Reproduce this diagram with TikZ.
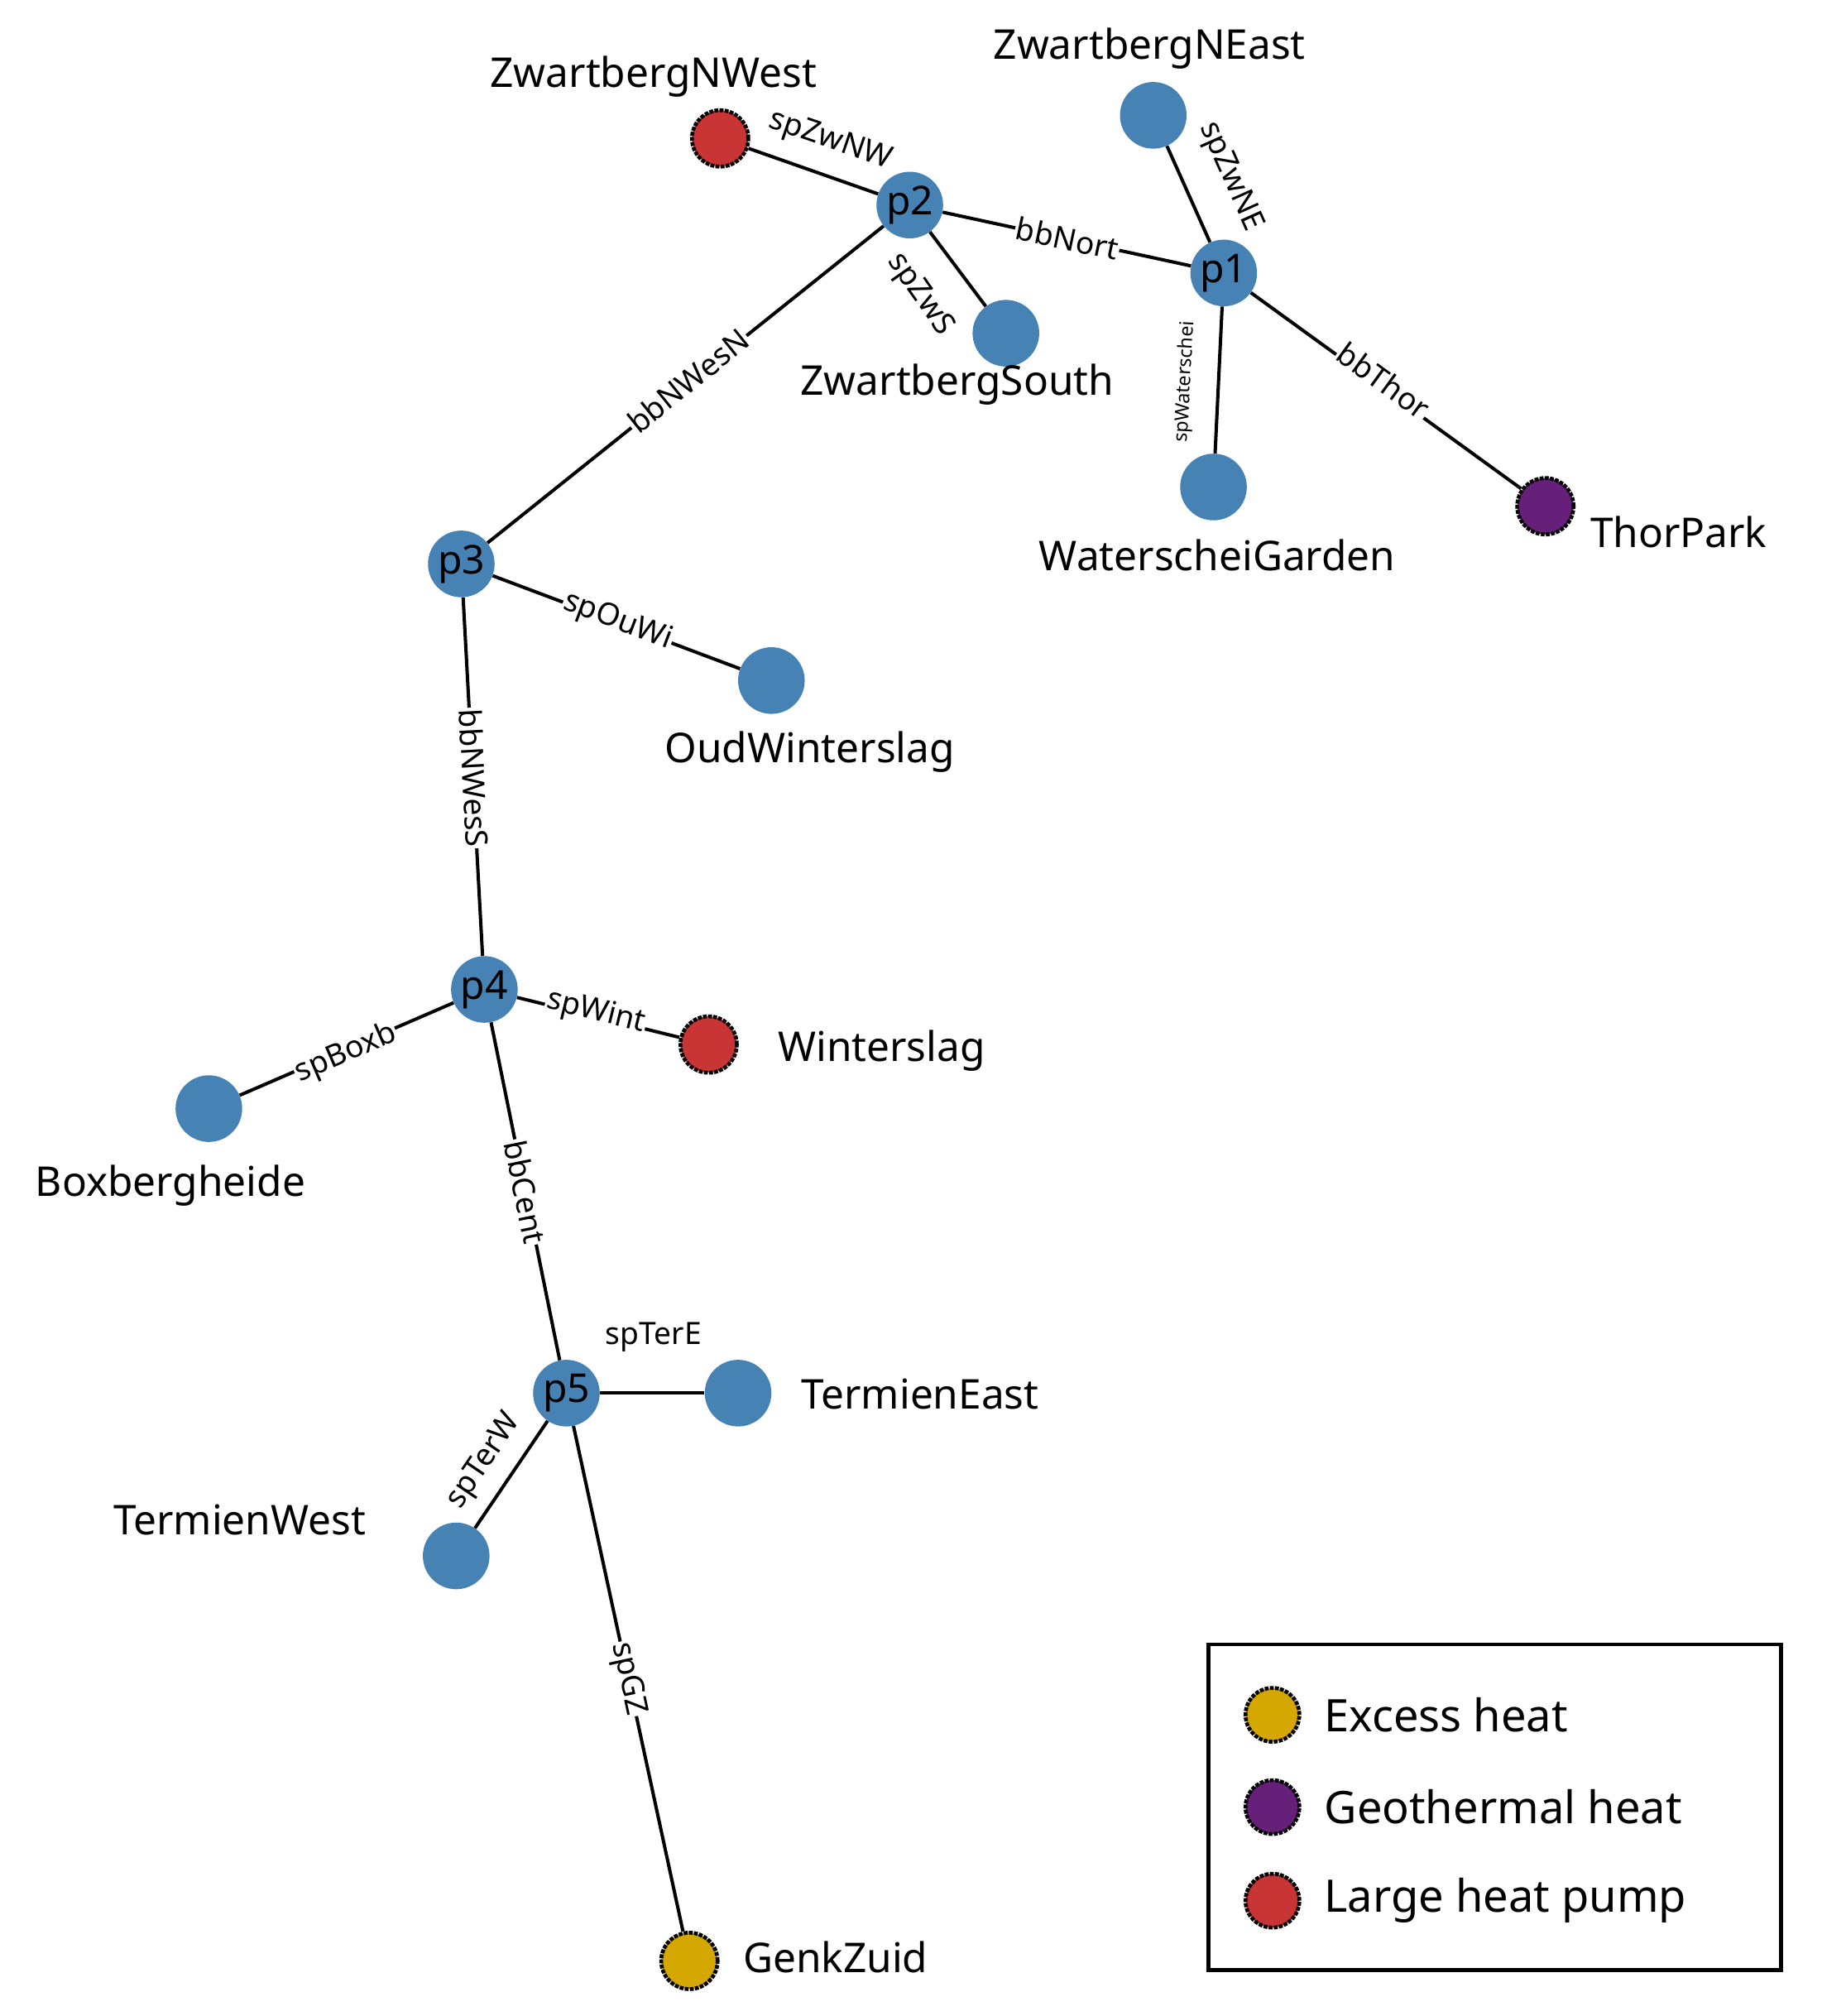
\documentclass[tikz,border=0pt]{standalone}
\usepackage{fontspec}
\setmainfont{Noto Sans}
\definecolor{nblue}{HTML}{4682B4}
\definecolor{nred}{HTML}{C93535}
\definecolor{npur}{HTML}{66207A}
\definecolor{nyel}{HTML}{D4A800}
\begin{document}
\begin{tikzpicture}[x=1pt,y=-1pt,
  nd/.style={circle,fill=nblue,minimum size=52pt,inner sep=0pt,font=\fontsize{31}{32}\selectfont},
  src/.style={circle,fill=#1,draw=black,densely dotted,line width=3pt,minimum size=44pt,inner sep=0pt},
  lab/.style={font=\fontsize{32}{34}\selectfont},
  el/.style={fill=white,inner sep=1pt,font=\fontsize{24}{26}\selectfont},
  ed/.style={line width=2.6pt}]
\useasboundingbox (0,0) rectangle (1440,1573);
% nodes
\node[src=nred] (zwnw) at (562,108) {};
\node[nd] (zwne) at (900,90) {};
\node[nd] (p2) at (710,160) {p2};
\node[nd] (p1) at (955,213) {p1};
\node[nd] (zws) at (785,260) {};
\node[nd] (wg) at (947,380) {};
\node[src=npur] (thor) at (1206,395) {};
\node[nd] (p3) at (360,440) {p3};
\node[nd] (ouw) at (602,531) {};
\node[nd] (p4) at (378,772) {p4};
\node[src=nred] (wint) at (553,815) {};
\node[nd] (boxb) at (163,865) {};
\node[nd] (p5) at (442,1087) {p5};
\node[nd] (te) at (576,1087) {};
\node[nd] (tw) at (356,1214) {};
\node[src=nyel] (gz) at (538,1530) {};
% edges
\draw[ed] (zwnw)--(p2); \draw[ed] (p2)--(p1); \draw[ed] (zwne)--(p1);
\draw[ed] (p2)--(zws); \draw[ed] (p3)--(p2); \draw[ed] (p1)--(wg);
\draw[ed] (p1)--(thor); \draw[ed] (p3)--(ouw); \draw[ed] (p3)--(p4);
\draw[ed] (p4)--(wint); \draw[ed] (boxb)--(p4); \draw[ed] (p4)--(p5);
\draw[ed] (p5)--(te); \draw[ed] (tw)--(p5); \draw[ed] (p5)--(gz);
% edge labels
\node[el,rotate=-19] (l1) at (648,110) {spZwNW};
\node[el,rotate=-12] (l2) at (833,186) {bbNort};
\node[el,rotate=-66] (l3) at (960,138) {spZwNE};
\node[el,rotate=-55] (l4) at (718,230) {spZwS};
\node[el,rotate=38.7] (l5) at (537,297) {bbNWesN};
\node[el,rotate=87,font=\fontsize{15}{16}\selectfont] (l6) at (925,298) {spWaterschei};
\node[el,rotate=-36] (l7) at (1080,297) {bbThor};
\node[el,rotate=-20.6] (l8) at (482,485) {spOuWi};
\node[el,rotate=-87] (l9) at (370,607) {bbNWesS};
\node[el,rotate=-13.8] (l10) at (465,790) {spWint};
\node[el,rotate=23.4] (l11) at (270,822) {spBoxb};
\node[el,rotate=-78.5] (l12) at (410,930) {bbCent};
\node[el] (l13) at (510,1043) {spTerE};
\node[el,rotate=55.9] (l14) at (378,1140) {spTerW};
\node[el,rotate=-77.8] (l15) at (490,1310) {spGZ};
% node labels
\node[lab] (t1) at (510,60) {ZwartbergNWest};
\node[lab] (t2) at (897,38) {ZwartbergNEast};
\node[lab] (t3) at (747,300) {ZwartbergSouth};
\node[lab] (t4) at (950,433) {WaterscheiGarden};
\node[lab] (t5) at (1310,415) {ThorPark};
\node[lab] (t6) at (632,587) {OudWinterslag};
\node[lab] (t7) at (688,820) {Winterslag};
\node[lab] (t8) at (133,925) {Boxbergheide};
\node[lab] (t9) at (718,1088) {TermienEast};
\node[lab] (t10) at (187,1186) {TermienWest};
\node[lab] (t11) at (652,1527) {GenkZuid};
% legend
\draw[line width=3pt] (943,1283) rectangle (1390,1537);
\node[src=nyel,minimum size=42pt] (g1) at (993,1338) {};
\node[src=npur,minimum size=42pt] (g2) at (993,1410) {};
\node[src=nred,minimum size=42pt] (g3) at (993,1483) {};
\node[lab,anchor=west,font=\fontsize{35}{36}\selectfont] (k1) at (1030,1338) {Excess heat};
\node[lab,anchor=west,font=\fontsize{35}{36}\selectfont] (k2) at (1030,1410) {Geothermal heat};
\node[lab,anchor=west,font=\fontsize{35}{36}\selectfont] (k3) at (1030,1483) {Large heat pump};
\end{tikzpicture}
\end{document}
